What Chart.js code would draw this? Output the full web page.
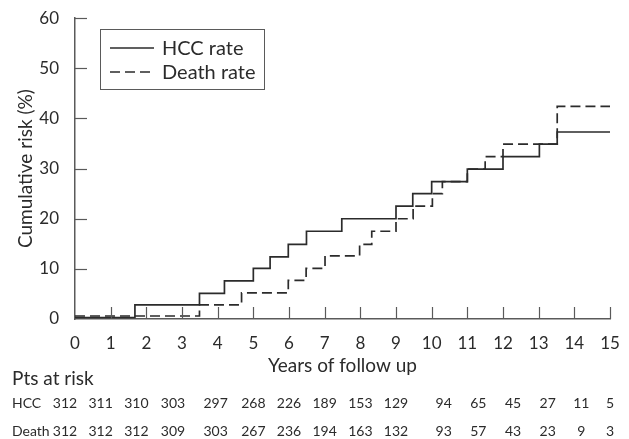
<!DOCTYPE html>
<html>
<head>
<meta charset="utf-8">
<script src="https://cdn.jsdelivr.net/npm/chart.js@4/dist/chart.umd.min.js"></script>
<style>
  html, body { margin: 0; padding: 0; background: #fff; }
  #wrap { width: 629px; height: 439px; position: relative; }
</style>
</head>
<body>
<div id="wrap"><canvas id="riskChart"></canvas></div>
<script>
// Kaplan-Meier style step curves (year of step, cumulative risk % after step)
const hccYears   = [0, 1.68, 3.49, 4.19, 5.0, 5.47, 5.98, 6.49, 7.48, 9.0, 9.47, 10.0, 11.0, 12.0, 13.02, 13.52, 15];
const hccRisk    = [0.3, 2.8, 5.1, 7.6, 10.1, 12.4, 14.9, 17.5, 20.0, 22.5, 25.0, 27.4, 29.9, 32.4, 34.9, 37.3, 37.3];
const deathYears = [0, 3.49, 4.67, 5.98, 6.48, 7.01, 7.98, 8.32, 9.0, 9.48, 10.02, 10.3, 11.0, 11.5, 12.0, 13.52, 15];
const deathRisk  = [0.6, 2.8, 5.2, 7.7, 10.1, 12.6, 14.9, 17.5, 20.0, 22.5, 25.0, 27.4, 29.9, 32.4, 34.9, 42.4, 42.4];

// patients at risk at each whole year 0..15
const hccAtRisk   = [312, 311, 310, 303, 297, 268, 226, 189, 153, 129, 94, 65, 45, 27, 11, 5];
const deathAtRisk = [312, 312, 312, 309, 303, 267, 236, 194, 163, 132, 93, 57, 43, 23, 9, 3];

const seriesNames = ['HCC rate', 'Death rate'];
const tableRows = ['HCC', 'Death'];

// small horizontal nudges of the table columns relative to the year ticks (px)
const columnNudge = [-10, -10, -10, -9, -2, 0, 0, 0, 0, 0, 12, 11, 10, 9, 7, 0];

const FONT = 'Lato, "DejaVu Sans", sans-serif';
const INK = '#2b2b2b';
const AXIS = '#5a5a5a';

function toPoints(xs, ys) {
    return xs.map((x, i) => ({ x: x, y: ys[i] }));
}

// draws inward ticks, x title, legend box and the at-risk table
const extras = {
    id: 'extras',
    afterDraw(chart) {
        const { ctx, chartArea, scales: { x, y } } = chart;
        ctx.save();

        // inward tick marks
        ctx.strokeStyle = AXIS;
        ctx.lineWidth = 1.2;
        x.ticks.forEach(t => {
            if (t.value === 0) return;
            const px = Math.round(x.getPixelForValue(t.value)) + 0.5;
            ctx.beginPath();
            ctx.moveTo(px, chartArea.bottom);
            ctx.lineTo(px, chartArea.bottom - 12);
            ctx.stroke();
        });
        y.ticks.forEach(t => {
            if (t.value === 0) return;
            const py = Math.round(y.getPixelForValue(t.value)) + 0.5;
            ctx.beginPath();
            ctx.moveTo(chartArea.left, py);
            ctx.lineTo(chartArea.left + 12, py);
            ctx.stroke();
        });

        ctx.fillStyle = INK;

        // x axis title
        ctx.font = '19px ' + FONT;
        ctx.textAlign = 'center';
        ctx.textBaseline = 'middle';
        ctx.fillText('Years of follow up', (chartArea.left + chartArea.right) / 2, 366);

        // legend
        ctx.strokeStyle = AXIS;
        ctx.lineWidth = 1;
        ctx.strokeRect(100.5, 29.5, 164, 60);
        chart.data.datasets.forEach((ds, i) => {
            const ly = 48 + i * 24;
            ctx.strokeStyle = ds.borderColor;
            ctx.lineWidth = ds.borderWidth;
            ctx.setLineDash(ds.borderDash || []);
            ctx.beginPath();
            ctx.moveTo(110, ly);
            ctx.lineTo(154, ly);
            ctx.stroke();
            ctx.setLineDash([]);
            ctx.font = '20px ' + FONT;
            ctx.textAlign = 'left';
            ctx.fillText(ds.label, 162, ly + 1);
        });

        // patients at risk table
        ctx.font = '19px ' + FONT;
        ctx.textAlign = 'left';
        ctx.fillText('Pts at risk', 12, 379);
        const rows = [hccAtRisk, deathAtRisk];
        rows.forEach((vals, r) => {
            const ry = 403 + r * 28;
            ctx.font = '14px ' + FONT;
            ctx.textAlign = 'left';
            ctx.fillText(tableRows[r], 12, ry);
            ctx.textAlign = 'center';
            vals.forEach((v, i) => {
                ctx.fillText(String(v), x.getPixelForValue(i) + columnNudge[i], ry);
            });
        });

        ctx.restore();
    }
};

const ctx = document.getElementById('riskChart').getContext('2d');
const riskChart = new Chart(ctx, {
    type: 'line',
    data: {
        datasets: [{
            label: seriesNames[0],
            data: toPoints(hccYears, hccRisk),
            borderColor: INK,
            borderWidth: 1.7,
            stepped: true,
            pointRadius: 0,
            fill: false
        }, {
            label: seriesNames[1],
            data: toPoints(deathYears, deathRisk),
            borderColor: INK,
            borderWidth: 1.7,
            borderDash: [10, 5],
            stepped: true,
            pointRadius: 0,
            fill: false
        }]
    },
    options: {
        responsive: true,
        maintainAspectRatio: false,
        animation: false,
        layout: { padding: { top: 15, right: 19, bottom: 0, left: 0 } },
        plugins: {
            legend: { display: false },
            tooltip: { enabled: false }
        },
        scales: {
            x: {
                type: 'linear',
                min: 0,
                max: 15,
                grid: { display: false },
                border: { display: true, color: AXIS, width: 1.5 },
                ticks: { stepSize: 1, color: INK, padding: 6, font: { family: FONT, size: 17 } },
                afterFit: s => { s.height = 120; }
            },
            y: {
                min: 0,
                max: 60,
                grid: { display: false },
                border: { display: true, color: AXIS, width: 1.5 },
                ticks: { stepSize: 10, color: INK, padding: 8, font: { family: FONT, size: 17 } },
                title: {
                    display: true,
                    text: 'Cumulative risk (%)',
                    color: INK,
                    padding: { top: 14, bottom: 0 },
                    font: { family: FONT, size: 19 }
                },
                afterFit: s => { s.width = 75; }
            }
        }
    },
    plugins: [extras]
});
</script>
</body>
</html>
